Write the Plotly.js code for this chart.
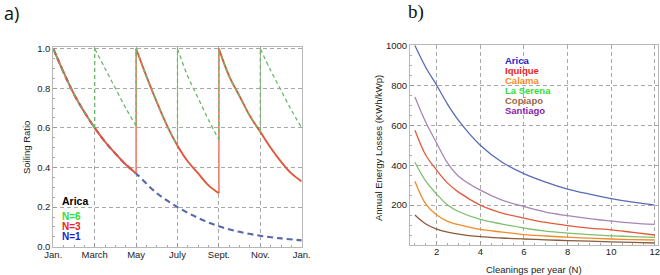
<!DOCTYPE html>
<html>
<head>
<meta charset="utf-8">
<script src="https://cdn.plot.ly/plotly-3.0.1.min.js"></script>
<style>html,body{margin:0;padding:0;background:#fff;}#chart{width:660px;height:275px;}</style>
</head>
<body>
<div id="chart"></div>
<script>
// ---------- Panel a) : soiling ratio over the year (month index 0 = Jan.) ----------
const monthTickVals = [0, 2, 4, 6, 8, 10, 12];
const monthTickText = ['Jan.', 'March', 'May', 'July', 'Sept.', 'Nov.', 'Jan.'];

// N=1 (one cleaning per year)
const monthsN1 = [0, 0.5, 1, 1.5, 2, 2.5, 3, 3.5, 4, 5, 6, 7, 8, 9, 10, 11, 12];
const ratioN1  = [1.0, 0.88, 0.77, 0.68, 0.6, 0.53, 0.47, 0.415, 0.37, 0.27, 0.2, 0.145, 0.103, 0.075, 0.055, 0.042, 0.032];

// N=3 (cleaning every 4 months) – segments separated by null
const monthsN3 = [0, 0.5, 1, 1.5, 2, 2.5, 3, 3.5, 4, null,
                  4, 4.5, 5, 5.5, 6, 6.5, 7, 7.5, 8, null,
                  8, 8.5, 9, 9.5, 10, 10.5, 11, 11.5, 12];
const ratioN3  = [1.0, 0.88, 0.77, 0.68, 0.6, 0.53, 0.47, 0.415, 0.37, null,
                  1.0, 0.86, 0.73, 0.61, 0.51, 0.43, 0.37, 0.31, 0.27, null,
                  1.0, 0.86, 0.76, 0.66, 0.58, 0.5, 0.43, 0.37, 0.33];

// N=6 (cleaning every 2 months)
const monthsN6 = [0, 0.5, 1, 1.5, 2, null,
                  2, 2.5, 3, 3.5, 4, null,
                  4, 4.5, 5, 5.5, 6, null,
                  6, 6.5, 7, 7.5, 8, null,
                  8, 8.5, 9, 9.5, 10, null,
                  10, 10.5, 11, 11.5, 12];
const ratioN6  = [1.0, 0.88, 0.77, 0.68, 0.6, null,
                  1.0, 0.9, 0.8, 0.7, 0.61, null,
                  1.0, 0.86, 0.73, 0.61, 0.51, null,
                  1.0, 0.86, 0.75, 0.64, 0.54, null,
                  1.0, 0.86, 0.76, 0.66, 0.58, null,
                  1.0, 0.89, 0.79, 0.69, 0.6];

// ---------- Panel b) : annual energy losses vs cleanings per year ----------
const cleanings = [1, 1.5, 2, 2.5, 3, 4, 5, 6, 7, 8, 9, 10, 11, 12];
const lossArica    = [1000, 890, 800, 705, 625, 500, 415, 358, 315, 280, 255, 233, 215, 200];
const lossSantiago = [742, 615, 510, 410, 345, 275, 225, 193, 165, 147, 132, 120, 110, 103];
const lossIquique  = [575, 450, 375, 310, 265, 200, 160, 135, 113, 97, 85, 76, 63, 50];
const lossLaSerena = [415, 320, 255, 200, 168, 128, 105, 85, 70, 60, 52, 46, 42, 38];
const lossCalama   = [320, 205, 150, 118, 102, 78, 65, 52, 45, 39, 34, 30, 27, 25];
const lossCopiapo  = [150, 105, 80, 65, 55, 42, 35, 30, 26, 22, 19, 16, 13, 10];
const cityNames  = ['Arica', 'Iquique', 'Calama', 'La Serena', 'Copiapo', 'Santiago'];
const cityLabelColors = ['#2222cc', '#ee2222', '#ff8a1c', '#33dd33', '#9a6a4a', '#8a22aa'];

// build vertical "cleaning jump" connectors from the segment arrays
function jumps(xs, ys) {
  const jx = [], jy = [];
  for (let i = 0; i < xs.length; i++) {
    if (xs[i] === null) {
      jx.push(xs[i - 1], xs[i + 1], null);
      jy.push(ys[i - 1], ys[i + 1], null);
    }
  }
  return {x: jx, y: jy};
}
const j3 = jumps(monthsN3, ratioN3);
const j6 = jumps(monthsN6, ratioN6);

const traces = [
  {x: monthsN1, y: ratioN1, xaxis: 'x', yaxis: 'y', mode: 'lines',
   line: {color: '#5566aa', width: 2.1, dash: '6px,4px', shape: 'spline'}},
  {x: j3.x, y: j3.y, xaxis: 'x', yaxis: 'y', mode: 'lines',
   line: {color: '#f0806a', width: 1.6}},
  {x: monthsN3, y: ratioN3, xaxis: 'x', yaxis: 'y', mode: 'lines', connectgaps: false,
   line: {color: '#e2553a', width: 1.9, shape: 'spline'}},
  {x: j6.x, y: j6.y, xaxis: 'x', yaxis: 'y', mode: 'lines',
   line: {color: '#6cb86c', width: 1.3, dash: '4px,3px'}},
  {x: monthsN6, y: ratioN6, xaxis: 'x', yaxis: 'y', mode: 'lines', connectgaps: false,
   line: {color: '#6cb86c', width: 1.3, dash: '4px,3px', shape: 'spline'}},

  {x: cleanings, y: lossArica,    xaxis: 'x2', yaxis: 'y2', mode: 'lines', line: {color: '#5a6bb5', width: 1.3, shape: 'spline'}},
  {x: cleanings, y: lossSantiago, xaxis: 'x2', yaxis: 'y2', mode: 'lines', line: {color: '#a686b6', width: 1.3, shape: 'spline'}},
  {x: cleanings, y: lossIquique,  xaxis: 'x2', yaxis: 'y2', mode: 'lines', line: {color: '#e35a3b', width: 1.3, shape: 'spline'}},
  {x: cleanings, y: lossLaSerena, xaxis: 'x2', yaxis: 'y2', mode: 'lines', line: {color: '#7dbf6e', width: 1.3, shape: 'spline'}},
  {x: cleanings, y: lossCalama,   xaxis: 'x2', yaxis: 'y2', mode: 'lines', line: {color: '#f08b2a', width: 1.3, shape: 'spline'}},
  {x: cleanings, y: lossCopiapo,  xaxis: 'x2', yaxis: 'y2', mode: 'lines', line: {color: '#8a5a3a', width: 1.3, shape: 'spline'}}
];

const W = 660, H = 275;
const px = v => v / W, py = v => (H - v) / H;
const frame = '#b8b8b8';
const grid = {showgrid: true, gridcolor: '#a8a8a8', griddash: '4px,3px', gridwidth: 1};
const common = Object.assign({
  showline: true, linecolor: frame, linewidth: 1, mirror: true, zeroline: false,
  ticks: 'inside', ticklen: 4, tickcolor: '#999', tickwidth: 1,
  tickfont: {size: 9.5, color: '#222'}, ticklabeloverflow: 'allow'
}, grid);

function ann(x, y, text, font, extra) {
  return Object.assign({xref: 'paper', yref: 'paper', x: px(x), y: py(y),
    xanchor: 'center', yanchor: 'middle', showarrow: false, text: text, font: font}, extra || {});
}

const layout = {
  width: W, height: H,
  margin: {l: 0, r: 0, t: 0, b: 0},
  paper_bgcolor: '#fff', plot_bgcolor: '#fff',
  showlegend: false,
  font: {family: 'Liberation Sans, Arial, sans-serif', size: 9.5, color: '#222'},
  xaxis: Object.assign({}, common, {
    domain: [px(53.3), px(301.7)], range: [0, 12], anchor: 'y',
    tickmode: 'array', tickvals: monthTickVals, ticktext: monthTickText,
    ticklabelstandoff: -1,
    minor: {ticks: 'inside', ticklen: 2, tickcolor: '#aaa', tickmode: 'linear', tick0: 0, dtick: 0.5, showgrid: false}
  }),
  yaxis: Object.assign({}, common, {
    domain: [py(246.7), py(47.1)], range: [0, 1.008], anchor: 'x',
    tickmode: 'linear', tick0: 0, dtick: 0.2, tickformat: '.1f',
    minor: {ticks: 'inside', ticklen: 2, tickcolor: '#aaa', tickmode: 'linear', tick0: 0, dtick: 0.05, showgrid: false}
  }),
  xaxis2: Object.assign({}, common, {
    domain: [px(410), px(658)], range: [0.775, 12.15], anchor: 'y2',
    tickmode: 'linear', tick0: 0, dtick: 2,
    ticklabelstandoff: -2,
    minor: {ticks: 'inside', ticklen: 2, tickcolor: '#aaa', tickmode: 'linear', tick0: 0, dtick: 0.5, showgrid: false}
  }),
  yaxis2: Object.assign({}, common, {
    domain: [py(245), py(44.5)], range: [0, 1005], anchor: 'x2',
    tickmode: 'array', tickvals: [200, 400, 600, 800, 1000],
    minor: {ticks: 'inside', ticklen: 2, tickcolor: '#aaa', tickmode: 'linear', tick0: 0, dtick: 50, showgrid: false}
  }),
  annotations: [
    ann(1.5, 13, 'a)', {family: 'Open Sans, DejaVu Sans, sans-serif', size: 18, color: '#111'}, {xanchor: 'left'}),
    ann(406, 12, 'b)', {family: 'Liberation Serif, Times New Roman, serif', size: 19, color: '#111'}, {xanchor: 'left'}),
    ann(26.5, 147.5, 'Soiling Ratio', {size: 9.5, color: '#222'}, {textangle: -90}),
    ann(378, 148, 'Annual Energy Losses (KWh/kWp)', {size: 9.5, color: '#222'}, {textangle: -90}),
    ann(534, 269, 'Cleanings per year (N)', {size: 9.5, color: '#222'}),
    ann(59.5, 201.5, '<b>Arica</b>', {size: 10.5, color: '#000'}, {xanchor: 'left'}),
    ann(59.5, 216, '<b>N=6</b>', {size: 10, color: '#33dd33'}, {xanchor: 'left'}),
    ann(59.5, 226, '<b>N=3</b>', {size: 10, color: '#ee2222'}, {xanchor: 'left'}),
    ann(59.5, 236, '<b>N=1</b>', {size: 10, color: '#2222cc'}, {xanchor: 'left'})
  ]
};

cityNames.forEach((name, i) => {
  layout.annotations.push(ann(502.5, 60.7 + i * 10, '<b>' + name + '</b>',
    {size: 9.5, color: cityLabelColors[i]}, {xanchor: 'left'}));
});

Plotly.newPlot('chart', traces, layout, {staticPlot: true, displayModeBar: false});
</script>
</body>
</html>
